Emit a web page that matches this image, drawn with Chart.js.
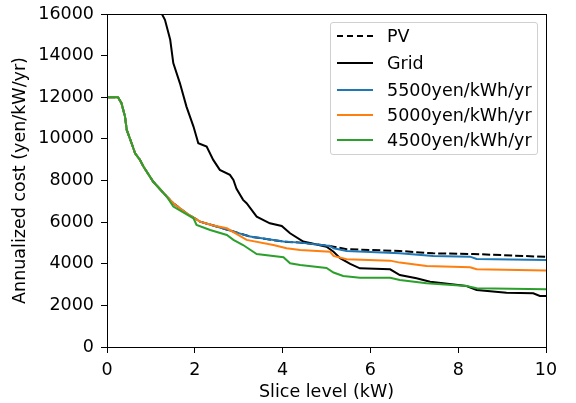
<!DOCTYPE html>
<html>
<head>
<meta charset="utf-8">
<script src="https://cdn.jsdelivr.net/npm/chart.js@4"></script>
<style>
  body { margin: 0; background: #fff; }
  #wrap { position: relative; width: 576px; height: 403px; }
  #legend {
    position: absolute; left: 330px; top: 22px; width: 206px; height: 131px;
    border: 1px solid #d0d0d0; border-radius: 3px; background: rgba(255,255,255,0.8);
    font-family: "DejaVu Sans", sans-serif; font-size: 17.5px; color: #000;
  }
  .row { position: absolute; left: 0; height: 20px; display: flex; align-items: center; }
  .swatch { width: 36px; height: 0; margin-left: 6px; margin-right: 14px; }
</style>
</head>
<body>
<div id="wrap">
  <canvas id="c" width="576" height="403"></canvas>
  <div id="legend"></div>
</div>
<script>
// curves (x in kW, y in yen/kW/yr)
const labels = ['PV', 'Grid', '5500yen/kWh/yr', '5000yen/kWh/yr', '4500yen/kWh/yr'];
const colors = ['#000000', '#000000', '#1f77b4', '#ff7f0e', '#2ca02c'];

const pvX = [0, 0.25, 0.33, 0.41, 0.45, 0.56, 0.64, 0.75, 0.83, 1.05, 1.36, 1.51, 1.81, 2.12, 2.4, 2.8, 3.26, 4.02, 4.4, 5.08, 5.16, 5.46, 6.67, 7.43, 8.34, 10];
const pvY = [12000, 12000, 11716, 11070, 10430, 9790, 9310, 8990, 8670, 7950, 7230, 6910, 6425, 6025, 5850, 5600, 5305, 5065, 5015, 4855, 4820, 4700, 4615, 4500, 4470, 4330];

const gridX = [1.25, 1.32, 1.44, 1.51, 1.66, 1.81, 1.97, 2.08, 2.27, 2.42, 2.57, 2.8, 2.88, 2.95, 3.1, 3.18, 3.41, 3.71, 3.98, 4.17, 4.47, 5.0, 5.16, 5.31, 5.54, 5.76, 6.45, 6.67, 7.05, 7.36, 8.19, 8.42, 9.1, 9.71, 9.86, 10];
const gridY = [16000, 15720, 14760, 13640, 12680, 11550, 10590, 9790, 9630, 8990, 8510, 8270, 8030, 7600, 7070, 6910, 6265, 5945, 5815, 5465, 5065, 4820, 4580, 4265, 3990, 3780, 3735, 3460, 3300, 3140, 2930, 2740, 2610, 2580, 2450, 2450];

const y5500X = [0, 0.25, 0.33, 0.41, 0.45, 0.56, 0.64, 0.75, 0.83, 1.05, 1.36, 1.51, 1.81, 2.12, 2.4, 2.8, 3.26, 4.02, 4.4, 5.08, 5.16, 5.46, 6.67, 7.43, 8.27, 8.42, 10];
const y5500Y = [12000, 12000, 11716, 11070, 10430, 9790, 9310, 8990, 8670, 7950, 7230, 6910, 6425, 6025, 5850, 5600, 5305, 5065, 5015, 4855, 4745, 4615, 4500, 4375, 4340, 4230, 4180];

const y5000X = [0, 0.25, 0.33, 0.41, 0.45, 0.56, 0.64, 0.75, 0.83, 1.05, 1.36, 1.51, 1.81, 2.12, 2.4, 2.73, 3.18, 3.79, 4.09, 4.4, 5.08, 5.16, 5.46, 6.45, 6.67, 7.28, 8.27, 8.42, 10];
const y5000Y = [12000, 12000, 11716, 11070, 10430, 9790, 9310, 8990, 8670, 7950, 7230, 6910, 6425, 6025, 5850, 5705, 5145, 4900, 4745, 4660, 4580, 4375, 4215, 4150, 4055, 3895, 3830, 3735, 3670];

const y4500X = [0, 0.25, 0.33, 0.41, 0.45, 0.56, 0.64, 0.75, 0.83, 1.05, 1.36, 1.51, 1.97, 2.04, 2.35, 2.73, 2.88, 3.1, 3.41, 4.02, 4.17, 4.4, 5.0, 5.16, 5.38, 5.76, 6.45, 6.67, 7.28, 8.19, 8.42, 10];
const y4500Y = [12000, 12000, 11716, 11070, 10430, 9790, 9310, 8990, 8670, 7950, 7230, 6745, 6185, 5865, 5625, 5385, 5145, 4900, 4470, 4310, 4020, 3940, 3800, 3580, 3410, 3330, 3330, 3220, 3060, 2930, 2820, 2770];

const xTicks = [0, 2, 4, 6, 8, 10];
const yTicks = [0, 2000, 4000, 6000, 8000, 10000, 12000, 14000, 16000];

const seriesX = [pvX, gridX, y5500X, y5000X, y4500X];
const seriesY = [pvY, gridY, y5500Y, y5000Y, y4500Y];
const dashes = [[8, 3], [], [], [], []];

const datasets = labels.map((lab, i) => ({
  label: lab,
  data: seriesX[i].map((x, j) => ({ x: x, y: seriesY[i][j] })),
  borderColor: colors[i],
  borderWidth: 2,
  borderDash: dashes[i],
  pointRadius: 0,
  tension: 0,
  fill: false,
  order: labels.length - i   // later series drawn on top, as in the original
}));

// black frame round the plot area
const frame = {
  id: 'frame',
  afterDatasetsDraw(chart) {
    const a = chart.chartArea, ctx = chart.ctx;
    ctx.save();
    ctx.strokeStyle = '#000';
    ctx.lineWidth = 1;
    ctx.strokeRect(Math.round(a.left) + 0.5, Math.round(a.top) + 0.5, Math.round(a.right - a.left), Math.round(a.bottom - a.top));
    ctx.restore();
  }
};

const font = { family: 'DejaVu Sans', size: 17.5 };

new Chart(document.getElementById('c'), {
  type: 'line',
  data: { datasets: datasets },
  options: {
    responsive: false,
    animation: false,
    layout: { padding: { top: 14, right: 30, left: 0, bottom: 0 } },
    plugins: { legend: { display: false }, tooltip: { enabled: false } },
    scales: {
      x: {
        type: 'linear', min: 0, max: 10,
        afterBuildTicks: s => { s.ticks = xTicks.map(v => ({ value: v })); },
        ticks: { color: '#000', font: font, padding: 7, maxRotation: 0 },
        grid: { display: true, drawOnChartArea: false, drawTicks: true, tickLength: 6, color: '#000' },
        border: { display: true, color: '#000' },
        title: { display: true, text: 'Slice level (kW)', color: '#000', font: font, padding: { top: 2, bottom: 0 } },
        afterFit: s => { s.height = 403 - 347; s.paddingLeft = 0; s.paddingRight = 0; }
      },
      y: {
        type: 'linear', min: 0, max: 16000,
        afterBuildTicks: s => { s.ticks = yTicks.map(v => ({ value: v })); },
        ticks: { color: '#000', font: font, padding: 7, callback: v => String(v) },
        grid: { display: true, drawOnChartArea: false, drawTicks: true, tickLength: 6, color: '#000' },
        border: { display: true, color: '#000' },
        title: { display: true, text: 'Annualized cost (yen/kW/yr)', color: '#000', font: font, padding: { top: 10, bottom: 0 } },
        afterFit: s => { s.width = 107; s.paddingTop = 0; s.paddingBottom = 0; }
      }
    }
  },
  plugins: [frame]
});

// legend box inside the plot, upper right
const leg = document.getElementById('legend');
const rowTops = [3, 30, 57, 82, 107];
labels.forEach((lab, i) => {
  const row = document.createElement('div');
  row.className = 'row';
  row.style.top = rowTops[i] + 'px';
  const sw = document.createElement('span');
  sw.className = 'swatch';
  sw.style.borderTop = '2px ' + (dashes[i].length ? 'dashed' : 'solid') + ' ' + colors[i];
  const tx = document.createElement('span');
  tx.textContent = lab;
  row.appendChild(sw);
  row.appendChild(tx);
  leg.appendChild(row);
});
</script>
</body>
</html>
